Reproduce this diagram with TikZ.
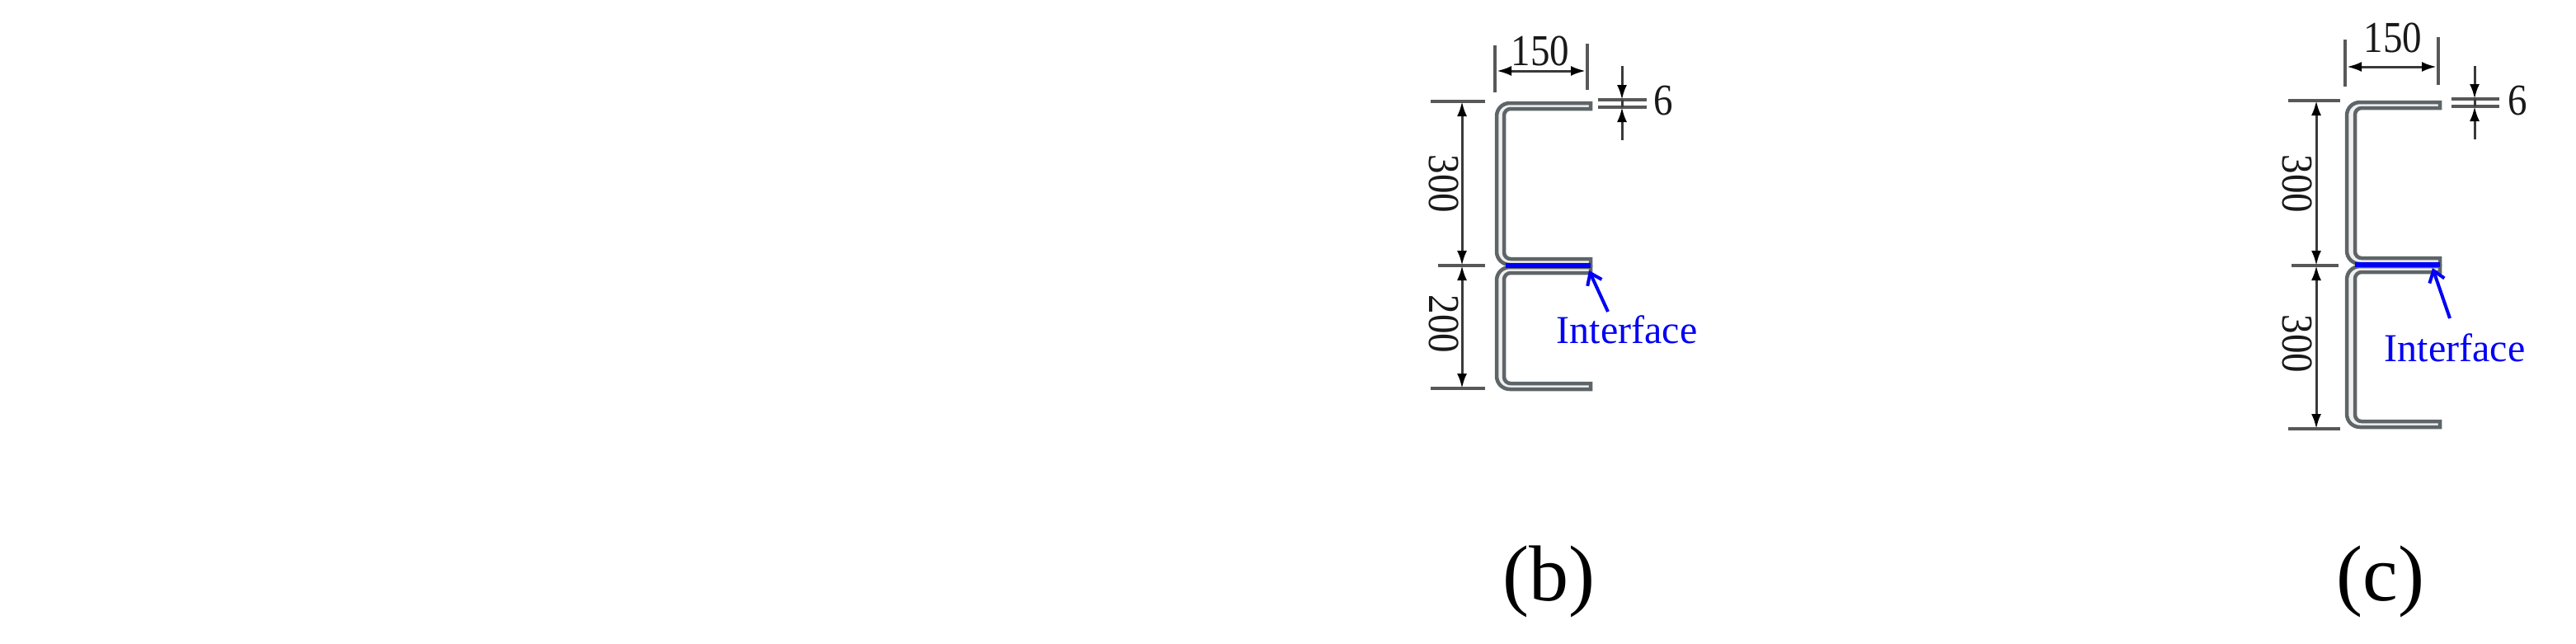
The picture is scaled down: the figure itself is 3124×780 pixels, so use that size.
\documentclass[tikz,border=0pt]{standalone}
\usepackage{fontspec}
\setmainfont{Liberation Serif}
\usetikzlibrary{arrows.meta}
\definecolor{steel}{HTML}{5E6568}
\definecolor{dimc}{HTML}{3A3A3A}
\definecolor{ifc}{HTML}{0000F5}
\tikzset{
  x=1pt,y=-1pt,
  extline/.style={draw=dimc!85!white,line width=3.6pt},
  dimline/.style={draw=dimc,line width=3pt,arrows={Latex[length=18pt,width=12pt,black]-Latex[length=18pt,width=12pt,black]}},
  tipin/.style={draw=dimc,line width=3pt,-{Latex[length=18pt,width=12pt,black]}},
  channel/.style={draw=steel,line width=4.5pt,fill=white!88!gray,line join=miter},
  iface/.style={draw=ifc,line width=5.5pt},
  ifarrow/.style={draw=ifc,line width=4pt,-{Straight Barb[length=13pt,width=19pt,ifc]}},
  dimtext/.style={font=\fontsize{47pt}{47pt}\selectfont,inner sep=0pt,text=black!90,yscale=1.14,transform shape},
  iftext/.style={font=\fontsize{48pt}{48pt}\selectfont,inner sep=0pt,text=ifc},
  captext/.style={font=\fontsize{96pt}{96pt}\selectfont,inner sep=0pt,text=black}
}
% #1 outer x, #2 inner x, #3 right x, #4 top y, #5 bottom y
\newcommand{\steelC}[5]{%
  \pgfmathsetmacro{\yti}{#4+7}\pgfmathsetmacro{\ybi}{#5-7}%
  \pgfmathsetmacro{\xa}{#1+16}\pgfmathsetmacro{\xb}{#2+8}%
  \path[channel] (#3,#4) -- (\xa,#4)
    .. controls (#1+7,#4) and (#1,#4+7) .. (#1,#4+16)
    -- (#1,#5-16)
    .. controls (#1,#5-7) and (#1+7,#5) .. (\xa,#5)
    -- (#3,#5) -- (#3,\ybi) -- (\xb,\ybi)
    .. controls (#2+3.5,\ybi) and (#2,\ybi-3.5) .. (#2,\ybi-8)
    -- (#2,\yti+8)
    .. controls (#2,\yti+3.5) and (#2+3.5,\yti) .. (\xb,\yti)
    -- (#3,\yti) -- cycle;}
\begin{document}
\begin{tikzpicture}
\useasboundingbox (0,0) rectangle (3124,780);
% ---------- panel (b)
\steelC{1815}{1824}{1929}{125}{321}
\steelC{1815}{1824}{1929}{324}{472}
\coordinate (bL) at (1826,322); \coordinate (bR) at (1929,322);
\draw[iface] (bL) -- (bR);
\coordinate (b150a) at (1813,55); \coordinate (b150a2) at (1813,112);
\coordinate (b150b) at (1925,53); \coordinate (b150b2) at (1925,109);
\draw[extline] (b150a) -- (b150a2);
\draw[extline] (b150b) -- (b150b2);
\coordinate (b150l) at (1815,86); \coordinate (b150r) at (1923,86);
\draw[dimline] (b150l) -- (b150r);
\node[dimtext] (b150) at (1868,62) {150};
\coordinate (bt1) at (1735,123); \coordinate (bt2) at (1801,123);
\coordinate (bm1) at (1744,322); \coordinate (bm2) at (1801,322);
\coordinate (bb1) at (1735,471); \coordinate (bb2) at (1801,471);
\draw[extline] (bt1) -- (bt2);
\draw[extline] (bm1) -- (bm2);
\draw[extline] (bb1) -- (bb2);
\coordinate (bdt) at (1773,123); \coordinate (bdm) at (1773,322); \coordinate (bdb) at (1773,471);
\draw[dimline] (bdt) -- (bdm);
\draw[dimline] (bdm) -- (bdb);
\node[rotate=-90,dimtext] (b300) at (1751,223) {300};
\node[rotate=-90,dimtext] (b200) at (1751,393) {200};
\coordinate (b6a) at (1938,121); \coordinate (b6a2) at (1997,121);
\coordinate (b6b) at (1938,130); \coordinate (b6b2) at (1997,130);
\draw[extline] (b6a) -- (b6a2);
\draw[extline] (b6b) -- (b6b2);
\coordinate (b6t) at (1967,80); \coordinate (b6tt) at (1967,121);
\coordinate (b6u) at (1967,170); \coordinate (b6uu) at (1967,130);
\draw[tipin] (b6t) -- (b6tt);
\draw[tipin] (b6u) -- (b6uu);
\draw[dimc,line width=3pt] (b6tt) -- (b6uu);
\node[dimtext] (b6) at (2017,122) {6};
\node[iftext] (bif) at (1973,400) {Interface};
\coordinate (bifs) at (1950,378); \coordinate (bife) at (1927,328);
\draw[ifarrow] (bifs) -- (bife);
\node[captext] (capb) at (1878,705) {(b)};
% ---------- panel (c)
\steelC{2846}{2856}{2959}{124}{320}
\steelC{2846}{2856}{2959}{323}{518}
\coordinate (cL) at (2856,321); \coordinate (cR) at (2959,321);
\draw[iface] (cL) -- (cR);
\coordinate (c150a) at (2844,48); \coordinate (c150a2) at (2844,105);
\coordinate (c150b) at (2957,45); \coordinate (c150b2) at (2957,103);
\draw[extline] (c150a) -- (c150a2);
\draw[extline] (c150b) -- (c150b2);
\coordinate (c150l) at (2846,81); \coordinate (c150r) at (2955,81);
\draw[dimline] (c150l) -- (c150r);
\node[dimtext] (c150) at (2902,46) {150};
\coordinate (ct1) at (2775,122); \coordinate (ct2) at (2838,122);
\coordinate (cm1) at (2779,322); \coordinate (cm2) at (2836,322);
\coordinate (cb1) at (2775,520); \coordinate (cb2) at (2838,520);
\draw[extline] (ct1) -- (ct2);
\draw[extline] (cm1) -- (cm2);
\draw[extline] (cb1) -- (cb2);
\coordinate (cdt) at (2809,122); \coordinate (cdm) at (2809,322); \coordinate (cdb) at (2809,520);
\draw[dimline] (cdt) -- (cdm);
\draw[dimline] (cdm) -- (cdb);
\node[rotate=-90,dimtext] (c300a) at (2786,223) {300};
\node[rotate=-90,dimtext] (c300b) at (2786,417) {300};
\coordinate (c6a) at (2973,120); \coordinate (c6a2) at (3031,120);
\coordinate (c6b) at (2973,129); \coordinate (c6b2) at (3031,129);
\draw[extline] (c6a) -- (c6a2);
\draw[extline] (c6b) -- (c6b2);
\coordinate (c6t) at (3001,80); \coordinate (c6tt) at (3001,120);
\coordinate (c6u) at (3001,169); \coordinate (c6uu) at (3001,129);
\draw[tipin] (c6t) -- (c6tt);
\draw[tipin] (c6u) -- (c6uu);
\draw[dimc,line width=3pt] (c6tt) -- (c6uu);
\node[dimtext] (c6) at (3053,122) {6};
\node[iftext] (cif) at (2977,422) {Interface};
\coordinate (cifs) at (2971,386); \coordinate (cife) at (2950,325);
\draw[ifarrow] (cifs) -- (cife);
\node[captext] (capc) at (2887,705) {(c)};
\end{tikzpicture}
\end{document}
